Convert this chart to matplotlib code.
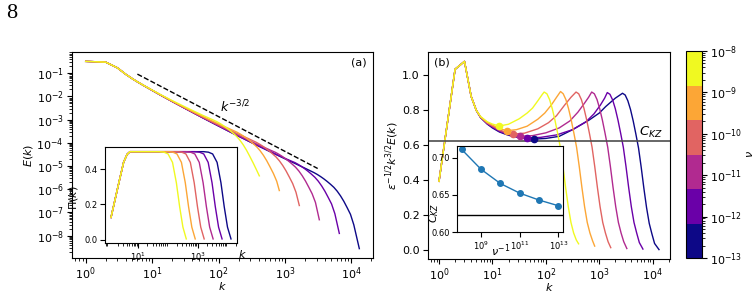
import matplotlib.pyplot as plt
import numpy as np
from matplotlib.colors import LogNorm
from matplotlib.cm import ScalarMappable

# viscosities of the six runs (yellow -> navy)
nus = [1e-8, 1e-9, 1e-10, 1e-11, 1e-12, 1e-13]

# compensated spectra eps^-1/2 k^3/2 E(k), panel (b): log10 k and values
lk_y = [0, .301, .477, .602, .699, .778, .903, 1.0, 1.13, 1.3, 1.5, 1.65, 1.75, 1.85, 1.93, 1.968,
        2.02, 2.07, 2.12, 2.17, 2.22, 2.27, 2.32, 2.37, 2.42, 2.47, 2.52, 2.57, 2.613]
c_y = [.395, 1.035, 1.08, .88, .80, .765, .735, .722, .711, .721, .752, .785, .813, .855, .89, .905,
       .895, .862, .81, .745, .67, .59, .48, .36, .25, .16, .10, .06, .038]

lk_o = [0, .301, .477, .602, .699, .778, .903, 1.0, 1.13, 1.265, 1.45, 1.65, 1.85, 1.98, 2.1, 2.2, 2.275,
        2.325, 2.375, 2.425, 2.475, 2.525, 2.575, 2.625, 2.675, 2.725, 2.775, 2.825, 2.875, 2.914]
c_o = [.395, 1.035, 1.08, .88, .80, .763, .732, .716, .697, .684, .69, .71, .75, .785, .83, .875, .908,
       .895, .862, .81, .745, .67, .59, .48, .36, .25, .16, .10, .055, .025]

lk_r = [0, .301, .477, .602, .699, .778, .903, 1.0, 1.13, 1.25, 1.383, 1.6, 1.85, 2.05, 2.2, 2.35, 2.47, 2.565,
        2.615, 2.665, 2.715, 2.765, 2.815, 2.865, 2.915, 2.965, 3.015, 3.065, 3.115, 3.165, 3.215]
c_r = [.395, 1.035, 1.08, .88, .80, .762, .728, .712, .69, .674, .665, .67, .695, .73, .77, .83, .875, .905,
       .895, .862, .81, .745, .67, .59, .48, .36, .25, .16, .10, .05, .016]

lk_m = [0, .301, .477, .602, .699, .778, .903, 1.0, 1.13, 1.3, 1.52, 1.75, 2.0, 2.25, 2.45, 2.6, 2.72, 2.8, 2.858,
        2.908, 2.958, 3.008, 3.058, 3.108, 3.158, 3.208, 3.258, 3.308, 3.358, 3.408, 3.458, 3.516]
c_m = [.395, 1.035, 1.08, .88, .80, .761, .726, .708, .685, .665, .652, .656, .672, .70, .74, .79, .84, .875, .905,
       .895, .862, .81, .745, .67, .59, .48, .36, .25, .16, .10, .05, .011]

lk_p = [0, .301, .477, .602, .699, .778, .903, 1.0, 1.13, 1.3, 1.45, 1.645, 1.9, 2.2, 2.5, 2.75, 2.9, 3.02, 3.1, 3.15,
        3.2, 3.25, 3.3, 3.35, 3.4, 3.45, 3.5, 3.55, 3.6, 3.65, 3.7, 3.75, 3.817]
c_p = [.395, 1.035, 1.08, .88, .80, .760, .724, .705, .68, .661, .65, .643, .646, .66, .69, .735, .78, .83, .87, .902,
       .892, .86, .81, .745, .67, .59, .48, .36, .25, .16, .10, .045, .008]

lk_n = [0, .301, .477, .602, .699, .778, .903, 1.0, 1.13, 1.3, 1.5, 1.776, 2.0, 2.25, 2.5, 2.81, 3.0, 3.12, 3.3, 3.435,
        3.485, 3.535, 3.585, 3.635, 3.685, 3.735, 3.785, 3.835, 3.885, 3.935, 3.985, 4.035, 4.118]
c_n = [.395, 1.035, 1.08, .88, .80, .759, .722, .70, .677, .658, .645, .636, .64, .652, .69, .745, .785, .822, .87, .898,
       .888, .855, .805, .74, .665, .585, .475, .355, .245, .155, .095, .04, .005]

# position of the minimum of each compensated spectrum and C_KZ estimates
k_min = [13.4, 18.4, 24.2, 33.1, 44.2, 59.7]
c_kz = [0.711, 0.6844, 0.6653, 0.6524, 0.6431, 0.6355]
nu_inv = [1e8, 1e9, 1e10, 1e11, 1e12, 1e13]
c_kz_inf = 0.6227
eps = 0.68

# energy flux Pi(k) (inset a): log10 k and values
lk_pi_head = [0.08, 0.34, 0.505, 0.623, 0.72]
pi_head = [0.126, 0.32, 0.44, 0.485, 0.5]
pi_tail = [0.5, 0.5, 0.497, 0.487, 0.439, 0.323, 0.187, 0.071, 0.004]
lk_pi_y = [1.0, 1.7, 1.86, 2.0, 2.15, 2.28, 2.39, 2.5, 2.613]
lk_pi_o = [1.0, 2.0, 2.16, 2.3, 2.45, 2.58, 2.69, 2.8, 2.914]
lk_pi_r = [1.0, 2.3, 2.46, 2.6, 2.75, 2.88, 2.99, 3.1, 3.215]
lk_pi_m = [1.0, 2.6, 2.76, 2.9, 3.05, 3.18, 3.29, 3.4, 3.516]
lk_pi_p = [1.0, 2.9, 3.06, 3.2, 3.35, 3.48, 3.59, 3.7, 3.817]
lk_pi_n = [1.0, 3.2, 3.36, 3.5, 3.65, 3.78, 3.89, 4.0, 4.118]

comp = [(lk_y, c_y), (lk_o, c_o), (lk_r, c_r), (lk_m, c_m), (lk_p, c_p), (lk_n, c_n)]
pis = [lk_pi_y, lk_pi_o, lk_pi_r, lk_pi_m, lk_pi_p, lk_pi_n]

plt.rcParams["font.size"] = 8
plt.rcParams["xtick.major.pad"] = 1.5
plt.rcParams["ytick.major.pad"] = 2.5
cmap = plt.get_cmap("plasma", 6)
norm = LogNorm(1e-13, 1e-8)

fig = plt.figure(figsize=(7.53, 2.94), dpi=100)
W, H = 753, 294
ax_a = fig.add_axes([72 / W, 36 / H, 301 / W, 206 / H])
ax_b = fig.add_axes([428 / W, 35 / H, 242 / W, 207 / H])
cax = fig.add_axes([686 / W, 36 / H, 16 / W, 207 / H])
ins_a = fig.add_axes([105 / W, 50.7 / H, 132 / W, 96 / H])
ins_b = fig.add_axes([456.7 / W, 61.7 / H, 106.6 / W, 86.3 / H])

fig.text(11.5 / W, 1 - 13 / H, "8", family="Liberation Serif", fontsize=16,
         ha="center", va="center")

# draw navy first so yellow ends up on top
for i in reversed(range(6)):
    color = cmap(norm(nus[i]))
    lk, c = comp[i]
    k = 10 ** np.array(lk)
    c = np.array(c)
    energy = c * np.sqrt(eps) * k ** -1.5
    ax_a.loglog(k, energy, color=color, lw=1)
    ax_b.plot(k, c, color=color, lw=1)
    ax_b.plot(k_min[i], c_kz[i], "o", color=color, ms=4.5, zorder=5)

    lk_pi = lk_pi_head + pis[i]
    pi = pi_head + pi_tail
    ins_a.plot(10 ** np.array(lk_pi), pi, color=color, lw=1)

kd = np.array([6, 3100])
ax_a.loglog(kd, 1.35 * kd ** -1.5, "k--", lw=1)
ax_a.text(180, 3.4e-3, r"$k^{-3/2}$", ha="center", va="center", fontsize=9)
ax_a.text(0.98, 0.95, "(a)", transform=ax_a.transAxes, ha="right", va="center")
ax_a.set_xlabel(r"$k$", labelpad=-1)
ax_a.set_ylabel(r"$E(k)$", labelpad=1)
ax_a.set_yticks([10.0 ** e for e in range(-8, 0)])
ax_a.set_xticks([10.0 ** e for e in range(0, 5)])

ax_b.set_xscale("log")
ax_b.axhline(c_kz_inf, color="0.3", lw=1.2)
ax_b.text(9100, 0.674, r"$C_{KZ}$", ha="center", va="center", fontsize=9.5)
ax_b.text(0.025, 0.95, "(b)", transform=ax_b.transAxes, ha="left", va="center")
ax_b.set_xlabel(r"$k$", labelpad=-1)
ax_b.set_ylabel(r"$\epsilon^{-1/2}k^{3/2}E(k)$", labelpad=1)
ax_b.set_yticks([0, 0.2, 0.4, 0.6, 0.8, 1.0])
ax_b.set_xticks([10.0 ** e for e in range(0, 5)])

ins_a.set_xscale("log")
ins_a.set_xticks([10, 1000])
ins_a.set_yticks([0, 0.2, 0.4])
ins_a.tick_params(labelsize=6, pad=1.5)
ins_a.set_xlabel(r"$k$", fontsize=8)
ins_a.xaxis.set_label_coords(1.04, -0.05)
ins_a.set_ylabel(r"$\Pi(k)$", fontsize=8)
ins_a.yaxis.set_label_coords(-0.19, 0.47)

ins_b.semilogx(nu_inv, c_kz, "o-", color="tab:blue", ms=4, lw=1)
ins_b.axhline(c_kz_inf, color="k", lw=1)
ins_b.set_ylim(bottom=0.6)
ins_b.set_xticks([1e9, 1e11, 1e13])
ins_b.set_yticks([0.60, 0.65, 0.70])
ins_b.tick_params(labelsize=6, pad=1.5)
ins_b.set_xlabel(r"$\nu^{-1}$", fontsize=8)
ins_b.xaxis.set_label_coords(0.41, -0.12)
ins_b.set_ylabel(r"$C_{KZ}$", fontsize=8)
ins_b.yaxis.set_label_coords(-0.143, 0.22)

sm = ScalarMappable(norm=norm, cmap=cmap)
cb = fig.colorbar(sm, cax=cax)
cb.ax.tick_params(pad=2)
cb.set_label(r"$\nu$", labelpad=2)

fig.savefig("out.png", dpi=100)
